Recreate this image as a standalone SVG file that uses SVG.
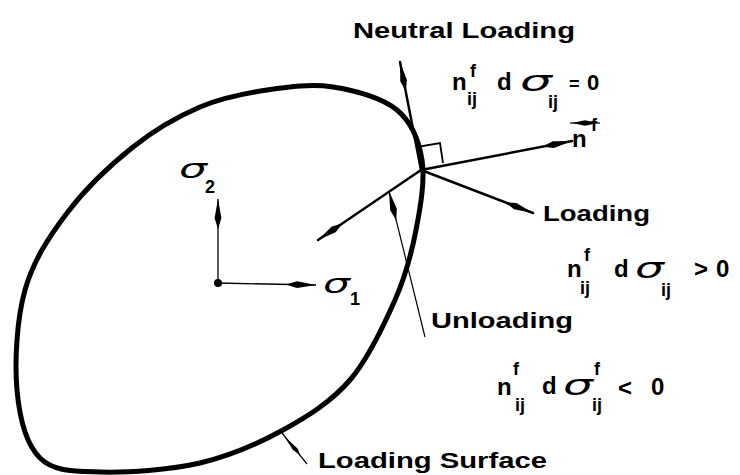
<svg xmlns="http://www.w3.org/2000/svg" width="740" height="475" viewBox="0 0 740 475">
<defs>
<style>
.t{font-family:"Liberation Sans",Arial,sans-serif;font-weight:bold;fill:#000}
.u{font-family:"Liberation Sans",Arial,sans-serif;font-weight:bold;fill:#000;font-size:18px}
.s{font-family:"DejaVu Sans","Liberation Sans",sans-serif;font-weight:normal;font-style:oblique;fill:#000}
.thick{fill:none;stroke:#000;stroke-width:2.5;stroke-linecap:round}
.thin{fill:none;stroke:#000;stroke-width:1.3}
</style>
<marker id="spear" markerUnits="userSpaceOnUse" markerWidth="32" markerHeight="10" refX="30" refY="5" viewBox="0 0 32 10" orient="auto">
<path d="M30,5 L11,1.6 L0,5 L11,8.4 Z" fill="#000"/>
</marker>
</defs>
<rect width="740" height="475" fill="#fff"/>

<g id="loading-surface">
<path d="M333,87 C354.7,90.3 382.2,97.8 397,110 C411.8,122.2 418.8,140 422,160 C425.2,180 420.5,206.7 416,230 C411.5,253.3 406,275 395,300 C384,325 368.7,358.3 350,380 C331.3,401.7 308,416.2 283,430 C258,443.8 230.5,456 200,463 C169.5,470 126.7,472.8 100,472 C73.3,471.2 53.8,471.7 40,458 C26.2,444.3 19.5,418 17,390 C14.5,362 16.7,319.5 25,290 C33.3,260.5 49,236.8 67,213 C85,189.2 110.8,164.7 133,147 C155.2,129.3 177.7,116.5 200,107 C222.3,97.5 244.8,93.3 267,90 C289.2,86.7 311.3,83.7 333,87 Z" fill="none" stroke="#000" stroke-width="5"/>
</g>

<g id="axes">
<circle cx="218" cy="283" r="4" fill="#000"/>
<line x1="218" y1="283" x2="218" y2="199" class="thin" marker-end="url(#spear)"/>
<line x1="218" y1="283" x2="316" y2="285" class="thin" marker-end="url(#spear)"/>
<text class="s" x="179" y="178" font-size="26" textLength="28" lengthAdjust="spacingAndGlyphs">σ</text>
<text class="u" x="205" y="193">2</text>
<text class="s" x="323" y="293" font-size="27" textLength="27" lengthAdjust="spacingAndGlyphs">σ</text>
<text class="u" x="350" y="305">1</text>
</g>

<g id="connectors">
<line x1="421" y1="170" x2="400" y2="62" class="thick" marker-end="url(#spear)"/>
<line x1="421" y1="170" x2="572" y2="141" class="thick" marker-end="url(#spear)"/>
<line x1="421" y1="170" x2="533" y2="213" class="thick" marker-end="url(#spear)"/>
<line x1="421" y1="170" x2="318" y2="240" class="thick" marker-end="url(#spear)"/>
<line x1="425" y1="337" x2="389" y2="191" stroke="#000" stroke-width="1.2" marker-end="url(#spear)"/>
<path d="M417,147 L440,143 L443,163" fill="none" stroke="#000" stroke-width="1.8"/>
<line x1="282" y1="433" x2="307" y2="464" stroke="#000" stroke-width="1.2"/>
<path d="M284,436 L298,449 L300,455 L293,450 Z" fill="#000"/>
</g>

<g id="neutral">
<text class="t" x="353" y="38" font-size="22" textLength="222" lengthAdjust="spacingAndGlyphs">Neutral Loading</text>
<text class="t" x="452" y="90" font-size="24">n</text>
<text class="u" x="470" y="77">f</text>
<text class="u" x="467" y="105">ij</text>
<text class="t" x="497" y="90" font-size="24">d</text>
<text class="s" x="520" y="91" font-size="28" textLength="32" lengthAdjust="spacingAndGlyphs">σ</text>
<text class="u" x="548" y="108">ij</text>
<text class="t" x="569" y="90" font-size="18">=</text>
<text class="t" x="587" y="90" font-size="22">0</text>
</g>

<g id="normal">
<line x1="570" y1="123" x2="600" y2="123" stroke="#000" stroke-width="1.2"/>
<path d="M572,123 L585,120.3 L598,123 L585,125.7 Z" fill="#000"/>
<text class="t" x="572" y="147" font-size="24">n</text>
<text class="u" x="591" y="131">f</text>
</g>

<g id="loading">
<text class="t" x="543" y="221" font-size="22" textLength="107" lengthAdjust="spacingAndGlyphs">Loading</text>
<text class="t" x="567" y="277" font-size="24">n</text>
<text class="u" x="584" y="261">f</text>
<text class="u" x="580" y="294">ij</text>
<text class="t" x="614" y="277" font-size="24">d</text>
<text class="s" x="635" y="278" font-size="28" textLength="29" lengthAdjust="spacingAndGlyphs">σ</text>
<text class="u" x="661" y="296">ij</text>
<text class="t" x="694" y="277" font-size="24">&gt;</text>
<text class="t" x="716" y="277" font-size="24">0</text>
</g>

<g id="unloading">
<text class="t" x="431" y="328" font-size="22" textLength="142" lengthAdjust="spacingAndGlyphs">Unloading</text>
<text class="t" x="497" y="395" font-size="24">n</text>
<text class="u" x="513" y="375">f</text>
<text class="u" x="515" y="411">ij</text>
<text class="t" x="542" y="394" font-size="24">d</text>
<text class="s" x="563" y="395" font-size="28" textLength="30" lengthAdjust="spacingAndGlyphs">σ</text>
<text class="u" x="594" y="375">f</text>
<text class="u" x="592" y="411">ij</text>
<text class="t" x="618" y="396" font-size="24">&lt;</text>
<text class="t" x="651" y="395" font-size="24">0</text>
</g>

<g id="surface-label">
<text class="t" x="318" y="468" font-size="22" textLength="229" lengthAdjust="spacingAndGlyphs">Loading Surface</text>
</g>
</svg>
